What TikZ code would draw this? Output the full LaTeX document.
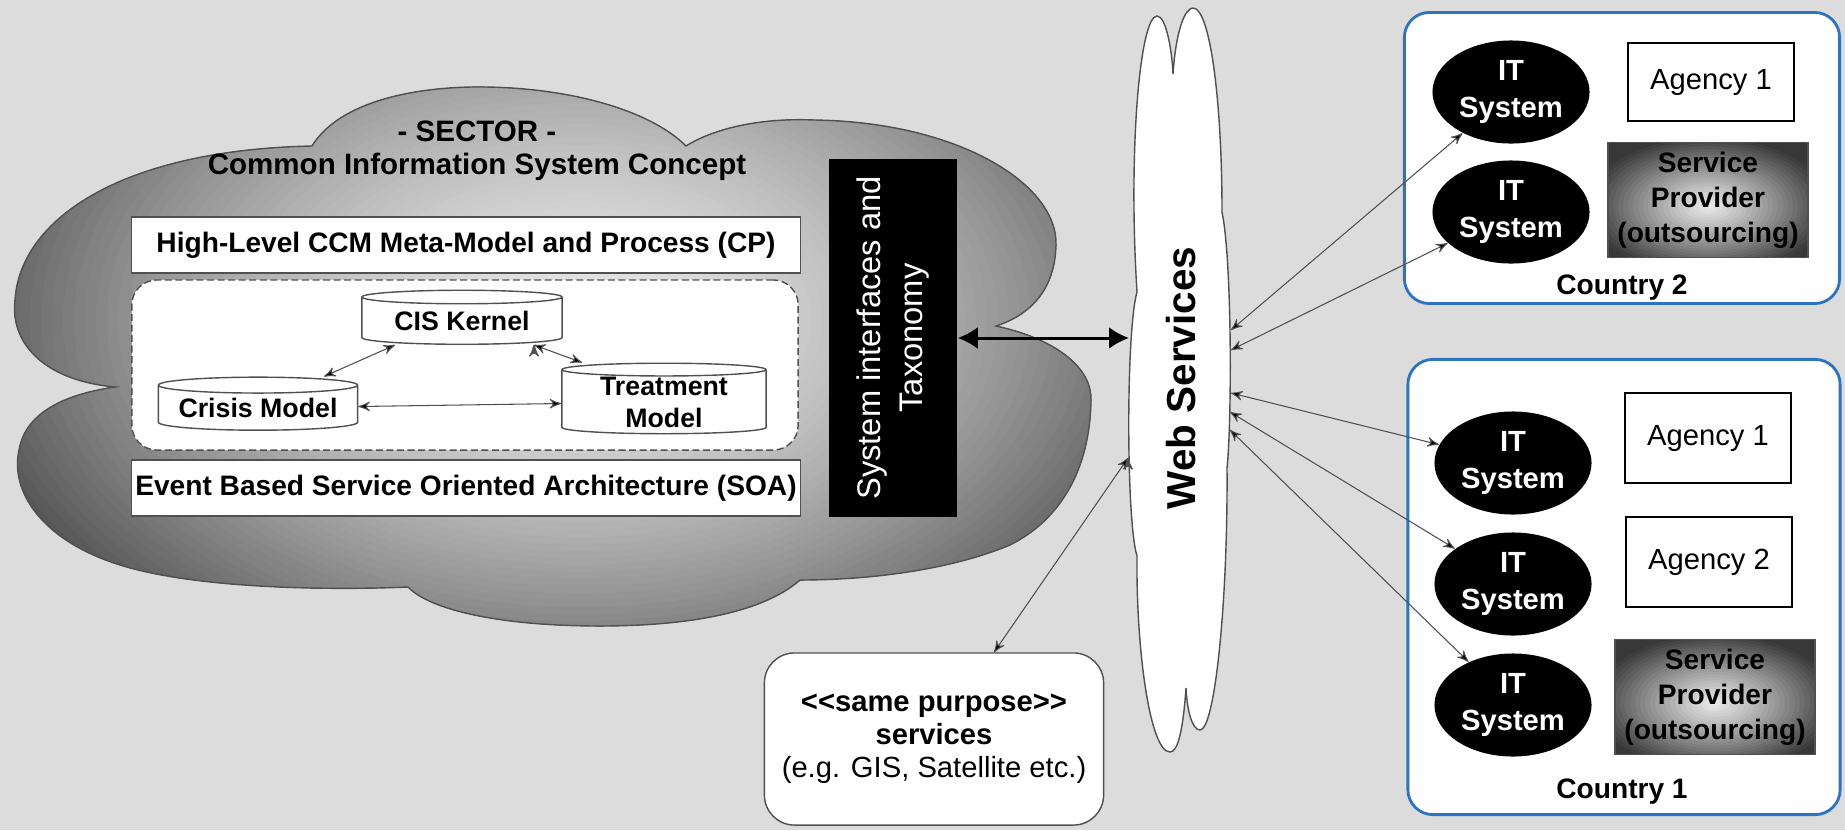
\documentclass[tikz,border=0pt]{standalone}
\usepackage{fontspec}
\setsansfont{Liberation Sans}
\usetikzlibrary{arrows,arrows.meta,shapes.geometric}

\definecolor{bggray}{RGB}{220,220,220}
\definecolor{linegray}{RGB}{80,80,80}
\definecolor{countryblue}{RGB}{45,115,195}

\begin{document}
\begin{tikzpicture}[x=0.01cm,y=-0.01cm,>=stealth',
	link/.style={<->,draw=linegray,line width=0.3pt},
	big link/.style={{Latex[length=0.2cm,width=0.22cm]}-{Latex[length=0.2cm,width=0.22cm]},line width=0.85pt},
	title node/.style={align=center,font=\sffamily\bfseries\fontsize{8.4}{9.4}\selectfont},
	layer node/.style={draw=linegray,fill=white,line width=0.4pt,inner sep=0pt,
		minimum width=6.69cm,minimum height=0.56cm,
		font=\sffamily\bfseries\fontsize{8}{9.6}\selectfont},
	model node/.style={cylinder,shape border rotate=90,aspect=0.1,draw=linegray,
		fill=white,line width=0.4pt,inner sep=0pt,align=center,
		font=\sffamily\bfseries\fontsize{7.6}{9.1}\selectfont},
	it node/.style={ellipse,fill=black,text=white,inner sep=0pt,align=center,
		minimum width=1.57cm,minimum height=1.03cm,
		font=\sffamily\bfseries\fontsize{8.3}{10.5}\selectfont},
	agency node/.style={draw=black,fill=white,line width=0.7pt,
		minimum width=1.66cm,minimum height=0.9cm,
		font=\sffamily\fontsize{8.3}{10}\selectfont},
	provider node/.style={draw=linegray,fill=black!78,inner sep=0pt,align=center,
		minimum width=2cm,minimum height=1.15cm,
		font=\sffamily\bfseries\fontsize{8}{9.9}\selectfont,
		path picture={\foreach \i in {28,27,...,1}{
			\pgfmathsetmacro\dk{min(8+55*pow(\i/20,1.15),78)}
			\fill[black!\dk] ([yshift=-0.06cm]path picture bounding box.center)
				ellipse [x radius=5*\i, y radius=2.85*\i];}}},
	country node/.style={draw=countryblue,fill=white,line width=0.8pt,
		rounded corners=0.25cm},
	label node/.style={font=\sffamily\bfseries\fontsize{8}{9.6}\selectfont}]
\useasboundingbox (0,0) rectangle (1845,830);
\fill[bggray] (0,0) rectangle (1845,830);

% sector cloud
\draw[linegray,fill=black!62,line width=0.4pt,
	path picture={\foreach \i in {60,59,...,1}{
		\pgfmathsetmacro\dk{10+52*pow(min(1.1*\i/60,1.05),1.6)}
		\fill[black!\dk] (580,320) ellipse [x radius=11*\i, y radius=7*\i];}}]
	(115,387) .. controls (40,380) and (10,340) .. (15,300)
	.. controls (20,220) and (120,150) .. (312,146)
	.. controls (340,100) and (420,86) .. (485,87)
	.. controls (570,88) and (650,110) .. (686,146)
	.. controls (720,125) and (770,118) .. (814,120)
	.. controls (960,122) and (1058,185) .. (1056,245)
	.. controls (1055,290) and (1030,315) .. (996,326)
	.. controls (1060,340) and (1092,370) .. (1091,400)
	.. controls (1090,470) and (1060,520) .. (1010,545)
	.. controls (950,570) and (870,580) .. (800,580)
	.. controls (760,615) and (680,626) .. (600,626)
	.. controls (500,626) and (430,610) .. (408,587)
	.. controls (340,590) and (200,590) .. (120,565)
	.. controls (40,540) and (10,490) .. (19,450)
	.. controls (25,415) and (60,395) .. (115,387) -- cycle;

\node[title node] (sector) at (477,151) {- SECTOR -\\Common Information System Concept};
\node[layer node] (ccm) at (466,245) {High-Level CCM Meta-Model and Process (CP)};
\node[layer node] (soa) at (466,488) {Event Based Service Oriented Architecture (SOA)};
\node[draw=linegray,dash pattern=on 2pt off 1pt,fill=white,rounded corners=0.25cm,
	minimum width=6.66cm,minimum height=1.7cm] (core) at (465,365) {};
\node[model node,minimum width=2cm,minimum height=0.54cm] (kernel) at (462,321) {CIS Kernel};
\node[model node,minimum width=1.99cm,minimum height=0.53cm] (crisis) at (258,408) {Crisis Model};
\node[model node,minimum width=2.04cm,minimum height=0.66cm] (treat) at (664,402) {Treatment\\Model};
\node[fill=black,text=white,rotate=90,align=center,minimum width=3.57cm,
	minimum height=1.28cm,font=\sffamily\fontsize{9.3}{11.7}\selectfont]
	(taxo) at (893,338) {System interfaces and\\Taxonomy};

% web services cloud
\draw[linegray,fill=white,line width=0.4pt]
	(1137,292) .. controls (1128,150) and (1140,16) .. (1157,16)
	.. controls (1166,16) and (1172,50) .. (1173,74)
	.. controls (1176,30) and (1185,8) .. (1193,8)
	.. controls (1210,8) and (1222,100) .. (1222,212)
	.. controls (1232,260) and (1232,420) .. (1227,468)
	.. controls (1228,600) and (1215,730) .. (1200,730)
	.. controls (1192,730) and (1187,710) .. (1186,688)
	.. controls (1183,730) and (1178,752) .. (1170,752)
	.. controls (1150,752) and (1136,650) .. (1137,556)
	.. controls (1126,520) and (1126,330) .. (1137,292) -- cycle;
\node[rotate=90,font=\sffamily\bfseries\fontsize{11.5}{13}\selectfont] (web) at (1181,378) {Web Services};
\coordinate (web west) at (1129,338);
\coordinate (web sw) at (1128,458);
\coordinate (web e1) at (1231,330);
\coordinate (web e2) at (1231,350);
\coordinate (web e3) at (1231,393);
\coordinate (web e4) at (1230,412);
\coordinate (web e5) at (1230,430);

\node[draw=linegray,fill=white,rounded corners=0.3cm,align=center,minimum width=3.39cm,
	minimum height=1.72cm,font=\sffamily\fontsize{8.3}{9.4}\selectfont] (svc) at (934,739)
	{\textbf{<\kern0pt<same purpose>\kern0pt>}\\\textbf{services}\\(e.g. GIS, Satellite etc.)};

% country 2
\node[country node,minimum width=4.35cm,minimum height=2.91cm] (country2) at (1622,158) {};
\node[label node] (c2 label) at (1622,288) {Country 2};
\node[it node] (it21) at (1511,92) {IT\\System};
\node[it node] (it22) at (1511,212) {IT\\System};
\node[agency node,minimum height=0.78cm] (ag21) at (1711,82) {Agency 1};
\node[provider node] (sp2) at (1708,200) {Service\\Provider\\(outsourcing)};

% country 1
\node[country node,minimum width=4.32cm,minimum height=4.55cm] (country1) at (1624,587) {};
\node[label node] (c1 label) at (1622,792) {Country 1};
\node[it node] (it11) at (1513,463) {IT\\System};
\node[it node] (it12) at (1513,584) {IT\\System};
\node[it node] (it13) at (1513,705) {IT\\System};
\node[agency node] (ag11) at (1708,438) {Agency 1};
\node[agency node] (ag12) at (1709,562) {Agency 2};
\node[provider node] (sp1) at (1715,697) {Service\\Provider\\(outsourcing)};

% connectors
\path[link]
	([xshift=-0.67cm]kernel.south) edge ([xshift=0.66cm]crisis.north)
	([xshift=0.72cm]kernel.south) edge ([xshift=-0.82cm]treat.north)
	(crisis) edge (treat);
\draw[big link] (taxo.south) -- (web west);
\path[link]
	(web e1) edge (it21)
	(web e2) edge (it22)
	(web e3) edge (it11)
	(web e4) edge (it12)
	(web e5) edge (it13)
	(web sw) edge ([xshift=0.6cm]svc.north);
\end{tikzpicture}
\end{document}
